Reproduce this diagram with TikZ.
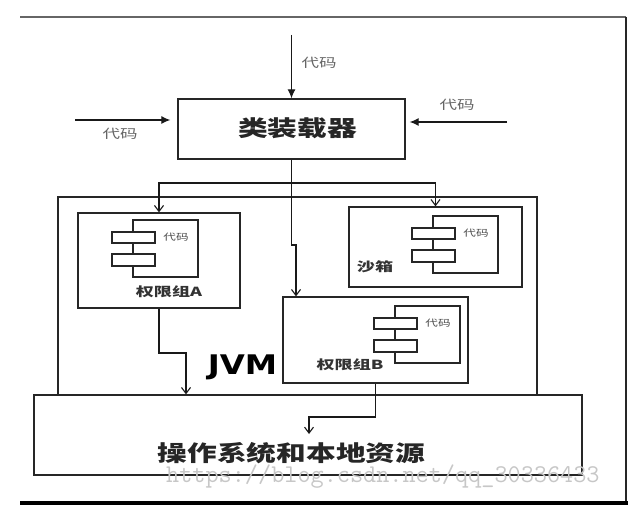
\documentclass[tikz,border=0pt]{standalone}
\usepackage{fontspec}
\usepackage{graphicx}
\usetikzlibrary{arrows.meta}
\newfontfamily\cjk{Noto Sans CJK SC}
\newfontfamily\jvmfont{DejaVu Sans}
\newcommand\hstr[2]{\scalebox{#1}[1]{#2}}
\tikzset{
  box/.style={rectangle, draw=black!85, line width=1.3pt, fill=white, inner sep=0pt},
  boxline/.style={draw=black!85, line width=1.1pt, fill=white},
  conn/.style={draw=black!90, line width=1.2pt},
  inarrow/.style={conn, -{Straight Barb[length=6pt,width=9pt,line width=1.1pt]}},
  bigarrow/.style={conn, -{Latex[length=9pt,width=8pt]}},
  mainlabel/.style={text=black!85, inner sep=0pt, font=\cjk\bfseries\fontsize{22}{24}\selectfont},
  grplabel/.style={text=black!80, inner sep=0pt, font=\cjk\bfseries\fontsize{12.5}{14}\selectfont},
  arrowlabel/.style={text=black!60, inner sep=0pt, font=\cjk\fontsize{12.5}{14}\selectfont},
  codelabel/.style={text=black!70, inner sep=0pt, font=\cjk\fontsize{9}{10}\selectfont},
  comp/.pic={
    \draw[boxline] (0,0) rectangle (65,57);
    \draw[boxline] (-21,12) rectangle (22,23);
    \draw[boxline] (-21,34) rectangle (22,46);
    \node[codelabel] (-code) at (43,17) {\hstr{1.4}{代码}};
  }
}
\begin{document}
\begin{tikzpicture}[x=1pt,y=-1pt]
\useasboundingbox[fill=white] (0,0) rectangle (637,516);
% outer frame
\draw[draw=black!60, line width=1.6pt] (20,17) -- (626,17);
\draw[draw=black!85, line width=1.3pt] (626,17) -- (626,503);
\draw[draw=black, line width=3.2pt] (20,503) -- (627.5,503);
% class loader
\node[box, minimum width=227pt, minimum height=60pt] (loader) at (291.5,129) {};
\node[mainlabel] (loadertext) at (297.5,128.5) {\hstr{1.35}{类装载器}};
% JVM
\node[box, fill=none, minimum width=479pt, minimum height=198pt] (jvm) at (297.5,296) {};
\node[inner sep=0pt, text=black, font=\jvmfont\bfseries\fontsize{27}{29}\selectfont] (jvmtext) at (242.5,367) {\hstr{1.2}{JVM}};
% group A
\node[box, minimum width=162pt, minimum height=95pt] (A) at (159,260.5) {};
\pic (compA) at (133,220) {comp};
\node[grplabel] (Atext) at (169,292) {\hstr{1.45}{权限组A}};
% sandbox
\node[box, minimum width=173pt, minimum height=80pt] (sand) at (435.5,247) {};
\pic (compS) at (433,216) {comp};
\node[grplabel] (Stext) at (375,267) {\hstr{1.45}{沙箱}};
% group B
\node[box, minimum width=185pt, minimum height=86pt] (B) at (375.5,340) {};
\pic (compB) at (395,306) {comp};
\node[grplabel] (Btext) at (350,365) {\hstr{1.45}{权限组B}};
% OS
\node[box, minimum width=548pt, minimum height=80pt] (os) at (308,435) {};
\node[mainlabel] (ostext) at (291.5,453) {\hstr{1.35}{操作系统和本地资源}};
% watermark
\node[anchor=base west, inner sep=0pt, text=black!22, font=\ttfamily\fontsize{25.5}{27}\selectfont] (wm) at (166,482) {https://blog.csdn.net/qq\_30336433};
% incoming code arrows
\coordinate (topin) at (291.5,35);
\coordinate (leftin) at (75,120);
\coordinate (rightin) at (507,122);
\draw[bigarrow] (topin) -- (loader.north);
\draw[bigarrow, shorten >=7pt] (leftin) -- (leftin -| loader.west);
\draw[bigarrow, shorten >=4pt] (rightin) -- (rightin -| loader.east);
\node[arrowlabel] (ltop) at (319,63) {\hstr{1.4}{代码}};
\node[arrowlabel] (lleft) at (120,134) {\hstr{1.4}{代码}};
\node[arrowlabel] (lright) at (457,105) {\hstr{1.4}{代码}};
% distribution
\coordinate (bus) at (291.5,183);
\coordinate (jog) at (296,245);
\draw[inarrow] (loader.south) |- (jog) -- (jog |- B.north);
\draw[inarrow] (bus) -| (A.north);
\draw[inarrow] (bus) -| (sand.north);
% to OS
\coordinate (aturn) at (186,353);
\draw[inarrow] (A.south) |- (aturn) -- (aturn |- os.north);
\coordinate (bturn) at (309,417);
\coordinate (bend) at (309,434);
\draw[inarrow] (B.south) |- (bturn) -- (bend);
\end{tikzpicture}
\end{document}
